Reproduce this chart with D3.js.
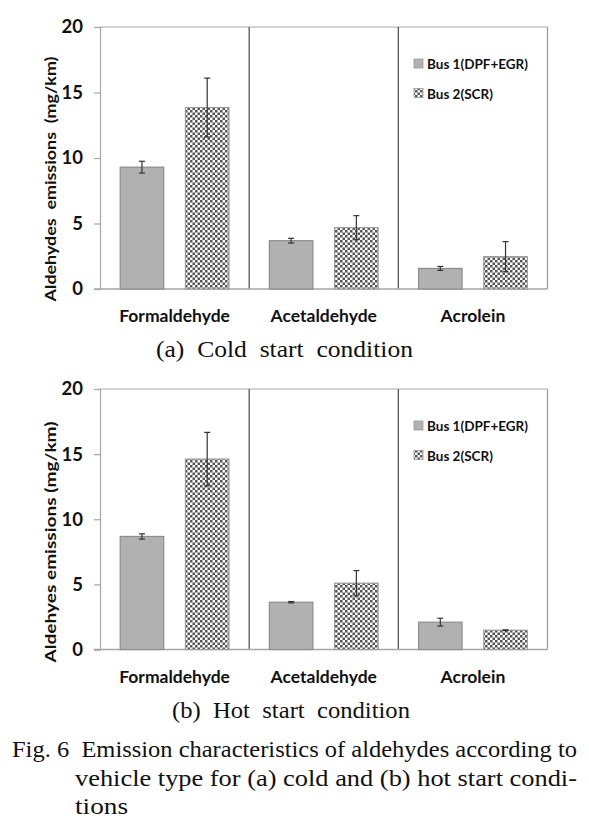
<!DOCTYPE html>
<html>
<head>
<meta charset="utf-8">
<script src="https://cdn.jsdelivr.net/npm/d3@7"></script>
<style>
  html, body { margin: 0; padding: 0; background: #fff; }
  svg { display: block; }
</style>
</head>
<body>
<svg id="chart" width="589" height="829"></svg>
<script>
// ---- data ----
const categories = ["Formaldehyde", "Acetaldehyde", "Acrolein"];
const seriesNames = ["Bus 1(DPF+EGR)", "Bus 2(SCR)"];
const yTicks = [0, 5, 10, 15, 20];

const coldBus1 = [9.3, 3.69, 1.57];
const coldBus1Err = [0.45, 0.18, 0.15];
const coldBus2 = [13.85, 4.68, 2.47];
const coldBus2Err = [2.25, 0.92, 1.15];

const hotBus1 = [8.68, 3.63, 2.10];
const hotBus1Err = [0.2, 0.05, 0.3];
const hotBus2 = [14.62, 5.09, 1.48];
const hotBus2Err = [2.05, 0.97, 0.03];

const panelTitles = ["(a)  Cold  start  condition", "(b)  Hot  start  condition"];
const yTitles = ["Aldehydes  emissions  (mg/km)", "Aldehyes emissions (mg/km)"];
const captionLines = [
  "Fig. 6  Emission characteristics of aldehydes according to",
  "vehicle type for (a) cold and (b) hot start condi-",
  "tions"
];

const svg = d3.select("#chart");
const defs = svg.append("defs");
const pat = defs.append("pattern")
  .attr("id", "checker").attr("patternUnits", "userSpaceOnUse")
  .attr("width", 5).attr("height", 5);
pat.append("rect").attr("width", 5).attr("height", 5).attr("fill", "#fff");
pat.append("rect").attr("width", 2.5).attr("height", 2.5).attr("fill", "#555");
pat.append("rect").attr("x", 2.5).attr("y", 2.5).attr("width", 2.5).attr("height", 2.5).attr("fill", "#555");

const fills = ["#b1b1b1", "url(#checker)"];
const sans = "Lato, 'Open Sans', sans-serif";
const serif = "'Liberation Serif', 'Times New Roman', serif";

function drawPanel(cfg) {
  const x0 = 100, x1 = 547.5;
  const y = d3.scaleLinear().domain([0, 20]).range([cfg.yBottom, cfg.yTop]);
  const xCat = d3.scaleBand().domain(categories).range([x0, x1]).paddingInner(0).paddingOuter(0);
  const xSer = d3.scaleBand().domain(seriesNames).range([0, xCat.bandwidth()])
    .paddingInner(0.333).paddingOuter(0.31);

  const g = svg.append("g");

  // frame: top and right border
  g.append("line").attr("x1", x0).attr("x2", x1).attr("y1", y(20)).attr("y2", y(20))
    .attr("stroke", "#a6a6a6").attr("stroke-width", 1);
  g.append("line").attr("x1", x1).attr("x2", x1).attr("y1", y(20)).attr("y2", y(0))
    .attr("stroke", "#9a9a9a").attr("stroke-width", 1.2);

  // dividers
  categories.slice(1).forEach(c => {
    g.append("line").attr("x1", xCat(c)).attr("x2", xCat(c))
      .attr("y1", y(20)).attr("y2", y(0))
      .attr("stroke", "#4a4a4a").attr("stroke-width", 1.2);
  });

  // y axis
  const yAxis = d3.axisLeft(y).tickValues(yTicks).tickSize(6).tickPadding(11).tickFormat(d3.format("d"));
  const ya = g.append("g").attr("transform", `translate(${x0},0)`).call(yAxis);
  ya.select(".domain").attr("stroke", "#a6a6a6").attr("stroke-width", 1.2);
  ya.selectAll(".tick line").attr("stroke", "#a6a6a6").attr("stroke-width", 1.2);
  ya.selectAll(".tick text").attr("font-family", sans)
    .attr("font-weight", "bold").attr("font-size", 18.5).attr("fill", "#111");

  // x axis baseline
  g.append("line").attr("x1", x0 - 6).attr("x2", x1).attr("y1", y(0)).attr("y2", y(0))
    .attr("stroke", "#a6a6a6").attr("stroke-width", 1.5);

  // bars
  const seriesData = [cfg.bus1, cfg.bus2];
  const errData = [cfg.bus1Err, cfg.bus2Err];
  seriesNames.forEach((s, si) => {
    const rows = categories.map((c, ci) => ({ c, v: seriesData[si][ci], e: errData[si][ci] }));
    g.selectAll(null).data(rows).enter().append("rect")
      .attr("x", d => xCat(d.c) + xSer(s))
      .attr("y", d => y(d.v))
      .attr("width", xSer.bandwidth())
      .attr("height", d => y(0) - y(d.v))
      .attr("fill", fills[si])
      .attr("stroke", si === 0 ? "#8d8d8d" : "#9a9a9a")
      .attr("stroke-width", 1.2);
    // error bars
    const eg = g.selectAll(null).data(rows).enter().append("g")
      .attr("stroke", "#333").attr("stroke-width", 1.2);
    const cx = d => xCat(d.c) + xSer(s) + xSer.bandwidth() / 2;
    eg.append("line").attr("x1", cx).attr("x2", cx)
      .attr("y1", d => y(d.v + d.e)).attr("y2", d => y(d.v - d.e));
    eg.append("line").attr("x1", d => cx(d) - 3).attr("x2", d => cx(d) + 3)
      .attr("y1", d => y(d.v + d.e)).attr("y2", d => y(d.v + d.e));
    eg.append("line").attr("x1", d => cx(d) - 3).attr("x2", d => cx(d) + 3)
      .attr("y1", d => y(d.v - d.e)).attr("y2", d => y(d.v - d.e));
  });

  // category labels
  g.selectAll(null).data(categories).enter().append("text")
    .attr("x", d => xCat(d) + xCat.bandwidth() / 2)
    .attr("y", y(0) + 33)
    .attr("text-anchor", "middle")
    .attr("font-family", sans)
    .attr("font-weight", "bold").attr("font-size", 17.5).attr("fill", "#111")
    .text(d => d);

  // legend
  const lg = g.append("g");
  seriesNames.forEach((s, si) => {
    const ly = cfg.yTop + 37 + si * 29.5;
    lg.append("rect").attr("x", 414).attr("y", ly - 5).attr("width", 9).attr("height", 9)
      .attr("fill", fills[si]).attr("stroke", "#999").attr("stroke-width", 0.8);
    lg.append("text").attr("x", 427).attr("y", ly + 5)
      .attr("font-family", sans)
      .attr("font-weight", "bold").attr("font-size", 13.5).attr("fill", "#111")
      .text(s);
  });

  // y title
  g.append("text")
    .attr("transform", `translate(56,${cfg.yTitleCenter}) rotate(-90)`)
    .attr("text-anchor", "middle")
    .attr("font-family", sans)
    .attr("font-weight", "bold").attr("font-size", 16).attr("fill", "#111")
    .attr("textLength", cfg.yTitleLen).attr("lengthAdjust", "spacingAndGlyphs")
    .style("white-space", "pre")
    .text(cfg.yTitle);

  // panel subtitle
  g.append("text")
    .attr("x", cfg.titleX).attr("y", y(0) + 68)
    .attr("font-family", serif)
    .attr("font-size", 23).attr("fill", "#111")
    .attr("textLength", cfg.titleLen).attr("lengthAdjust", "spacingAndGlyphs")
    .style("white-space", "pre")
    .text(cfg.title);
}

drawPanel({ yTop: 27, yBottom: 289, bus1: coldBus1, bus1Err: coldBus1Err, bus2: coldBus2, bus2Err: coldBus2Err,
  title: panelTitles[0], titleX: 156, titleLen: 257, yTitle: yTitles[0], yTitleCenter: 179, yTitleLen: 245 });
drawPanel({ yTop: 389, yBottom: 649.5, bus1: hotBus1, bus1Err: hotBus1Err, bus2: hotBus2, bus2Err: hotBus2Err,
  title: panelTitles[1], titleX: 172, titleLen: 238, yTitle: yTitles[1], yTitleCenter: 542, yTitleLen: 241 });

// caption
const cap = svg.append("g")
  .attr("font-family", serif)
  .attr("font-size", 24).attr("fill", "#111");
cap.append("text").attr("x", 12).attr("y", 757)
  .attr("textLength", 565).attr("lengthAdjust", "spacingAndGlyphs")
  .style("white-space", "pre").text(captionLines[0]);
cap.append("text").attr("x", 75).attr("y", 786)
  .attr("textLength", 502).attr("lengthAdjust", "spacingAndGlyphs")
  .text(captionLines[1]);
cap.append("text").attr("x", 75).attr("y", 814)
  .attr("textLength", 53).attr("lengthAdjust", "spacingAndGlyphs")
  .text(captionLines[2]);
</script>
</body>
</html>
